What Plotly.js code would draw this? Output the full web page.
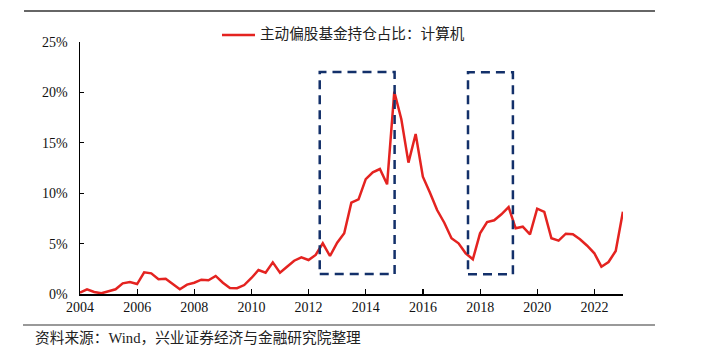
<!DOCTYPE html>
<html>
<head>
<meta charset="utf-8">
<script src="https://cdn.plot.ly/plotly-3.0.1.min.js"></script>
<style>
html,body{margin:0;padding:0;background:#fff;}
#chart{width:708px;height:362px;}
</style>
</head>
<body>
<div id="chart"></div>
<script>
// Quarter-end report dates
const dates = [
  "2003-12-31",
  "2004-03-31","2004-06-30","2004-09-30","2004-12-31",
  "2005-03-31","2005-06-30","2005-09-30","2005-12-31",
  "2006-03-31","2006-06-30","2006-09-30","2006-12-31",
  "2007-03-31","2007-06-30","2007-09-30","2007-12-31",
  "2008-03-31","2008-06-30","2008-09-30","2008-12-31",
  "2009-03-31","2009-06-30","2009-09-30","2009-12-31",
  "2010-03-31","2010-06-30","2010-09-30","2010-12-31",
  "2011-03-31","2011-06-30","2011-09-30","2011-12-31",
  "2012-03-31","2012-06-30","2012-09-30","2012-12-31",
  "2013-03-31","2013-06-30","2013-09-30","2013-12-31",
  "2014-03-31","2014-06-30","2014-09-30","2014-12-31",
  "2015-03-31","2015-06-30","2015-09-30","2015-12-31",
  "2016-03-31","2016-06-30","2016-09-30","2016-12-31",
  "2017-03-31","2017-06-30","2017-09-30","2017-12-31",
  "2018-03-31","2018-06-30","2018-09-30","2018-12-31",
  "2019-03-31","2019-06-30","2019-09-30","2019-12-31",
  "2020-03-31","2020-06-30","2020-09-30","2020-12-31",
  "2021-03-31","2021-06-30","2021-09-30","2021-12-31",
  "2022-03-31","2022-06-30","2022-09-30","2022-12-31"
];

// 主动偏股基金持仓占比：计算机 (%)
const computerShare = [
  0.13,
  0.47,0.20,0.07,0.27,
  0.47,1.06,1.19,0.99,
  2.15,2.05,1.46,1.52,
  0.99,0.47,0.93,1.12,
  1.42,1.36,1.79,1.12,
  0.60,0.57,0.89,1.59,
  2.38,2.11,3.14,2.11,
  2.71,3.30,3.64,3.37,
  3.87,5.03,3.77,5.09,
  6.02,9.06,9.39,11.40,
  12.07,12.40,10.88,20.07,
  17.33,13.03,15.87,11.64,
  10.05,8.33,7.07,5.53,
  5.03,4.04,3.44,6.02,
  7.14,7.31,7.91,8.63,
  6.52,6.68,5.92,8.46,
  8.14,5.53,5.29,5.98,
  5.92,5.43,4.79,4.04,
  2.71,3.17,4.27,8.17
];

const seriesName = "主动偏股基金持仓占比：计算机";
const sourceText = "资料来源：Wind，兴业证券经济与金融研究院整理";
const yTicks = [0, 5, 10, 15, 20, 25];
const yTickLabels = ["0%", "5%", "10%", "15%", "20%", "25%"];
const xTickYears = ["2004","2006","2008","2010","2012","2014","2016","2018","2020","2022"];

const RED = "#E42320";
const NAVY = "#13306A";
const FONT = '"Liberation Serif", "Noto Sans CJK SC", serif';

const trace = {
  x: dates,
  y: computerShare,
  type: "scatter",
  mode: "lines",
  name: seriesName,
  line: {color: RED, width: 2.5},
  showlegend: false,
  hoverinfo: "skip"
};

const boxStyle = {type: "rect", xref: "x", yref: "y",
  line: {color: NAVY, width: 2.5, dash: "9px,6px"}, fillcolor: "rgba(0,0,0,0)"};

const layout = {
  width: 708, height: 362,
  margin: {l: 80, r: 85, t: 42, b: 68},
  paper_bgcolor: "#fff", plot_bgcolor: "#fff",
  font: {family: FONT, size: 14, color: "#111"},
  showlegend: false,
  xaxis: {
    type: "date",
    range: ["2004-01-01", "2023-01-01"],
    tickmode: "array",
    tickvals: xTickYears.map(y => y + "-01-01"),
    ticktext: xTickYears,
    ticks: "inside", ticklen: 5, tickwidth: 1.2, tickcolor: "#000",
    showline: true, linecolor: "#000", linewidth: 1.5,
    showgrid: false, zeroline: false,
    tickfont: {family: FONT, size: 14, color: "#111"}
  },
  yaxis: {
    range: [0, 25],
    tickmode: "array",
    tickvals: yTicks,
    ticktext: yTickLabels,
    ticks: "inside", ticklen: 4, tickwidth: 1.2, tickcolor: "#000",
    showline: true, linecolor: "#000", linewidth: 1.5,
    showgrid: false, zeroline: false,
    ticklabelstandoff: 8,
    tickfont: {family: FONT, size: 14, color: "#111"}
  },
  shapes: [
    Object.assign({}, boxStyle, {x0: "2012-05-22", x1: "2015-01-04", y0: 1.98, y1: 22.02}),
    Object.assign({}, boxStyle, {x0: "2017-07-30", x1: "2019-02-24", y0: 1.95, y1: 22.0}),
    // top and bottom rules
    {type: "line", xref: "paper", yref: "paper", x0: -0.1031, x1: 1.0589, y0: 1.123, y1: 1.123,
      line: {color: "#333", width: 1.5}},
    {type: "line", xref: "paper", yref: "paper", x0: -0.1050, x1: 1.0589, y0: -0.123, y1: -0.123,
      line: {color: "#777", width: 1.5}},
    // legend sample line
    {type: "line", xref: "paper", yref: "paper", x0: 0.2615, x1: 0.3223, y0: 1.0278, y1: 1.0278,
      line: {color: RED, width: 2.5}}
  ],
  annotations: [
    {xref: "paper", yref: "paper", x: 0.3278, y: 1.0337, xanchor: "left", yanchor: "middle",
      text: seriesName, showarrow: false, font: {family: FONT, size: 14.6, color: "#222"}},
    {xref: "paper", yref: "paper", x: -0.0866, y: -0.1746, xanchor: "left", yanchor: "middle",
      text: sourceText, showarrow: false, font: {family: FONT, size: 14.7, color: "#222"}}
  ]
};

Plotly.newPlot("chart", [trace], layout, {displayModeBar: false, staticPlot: true});
</script>
</body>
</html>
